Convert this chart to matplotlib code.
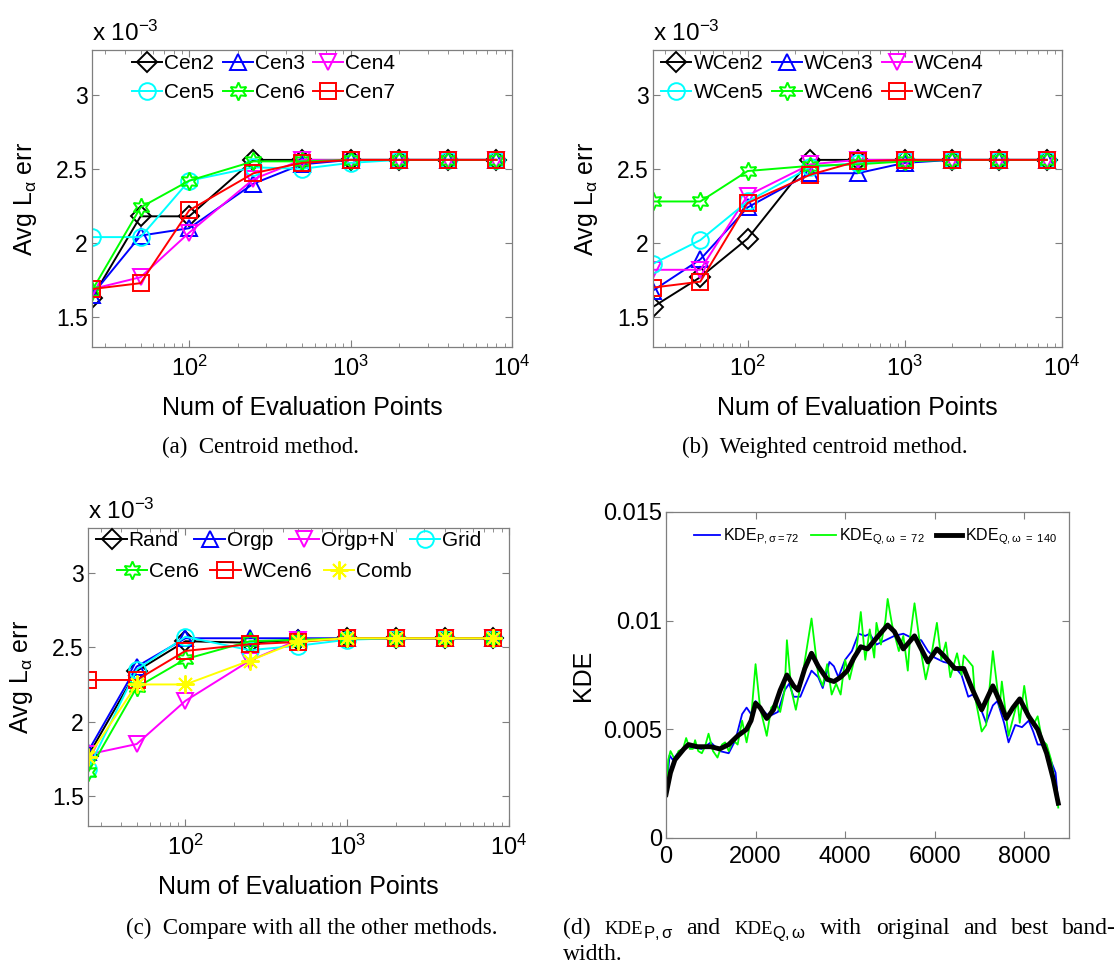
import numpy as np
import matplotlib
matplotlib.use("Agg")
import matplotlib.pyplot as plt
from matplotlib.ticker import FixedLocator, FixedFormatter, LogLocator, NullFormatter

plt.rcParams["font.family"] = ["Liberation Sans", "DejaVu Sans"]
plt.rcParams["mathtext.fontset"] = "custom"
plt.rcParams["mathtext.rm"] = "Liberation Sans"
plt.rcParams["mathtext.it"] = "Liberation Sans:italic"
plt.rcParams["mathtext.bf"] = "Liberation Sans:bold"
plt.rcParams["mathtext.default"] = "regular"

# ── Data ──────────────────────────────────────────────────────────────────────
# number of evaluation points (x axis of panels a-c)
N_POINTS = [25, 50, 100, 250, 500, 1000, 2000, 4000, 8000]

# average L_alpha error, in units of 1e-3
CEN2 = [1.63, 2.18, 2.18, 2.56, 2.56, 2.56, 2.56, 2.56, 2.56]
CEN3 = [1.65, 2.05, 2.10, 2.40, 2.53, 2.56, 2.56, 2.56, 2.56]
CEN4 = [1.69, 1.77, 2.07, 2.43, 2.56, 2.56, 2.56, 2.56, 2.56]
CEN5 = [2.04, 2.04, 2.42, 2.51, 2.50, 2.54, 2.56, 2.56, 2.56]
CEN6 = [1.68, 2.24, 2.42, 2.55, 2.55, 2.56, 2.56, 2.56, 2.56]
CEN7 = [1.69, 1.73, 2.22, 2.47, 2.54, 2.56, 2.56, 2.56, 2.56]

WCEN2 = [1.57, 1.77, 2.03, 2.56, 2.56, 2.56, 2.56, 2.56, 2.56]
WCEN3 = [1.68, 1.89, 2.24, 2.47, 2.47, 2.54, 2.56, 2.56, 2.56]
WCEN4 = [1.82, 1.82, 2.32, 2.53, 2.56, 2.56, 2.56, 2.56, 2.56]
WCEN5 = [1.86, 2.02, 2.28, 2.51, 2.54, 2.56, 2.56, 2.56, 2.56]
WCEN6 = [2.28, 2.28, 2.485, 2.52, 2.53, 2.55, 2.56, 2.56, 2.56]
WCEN7 = [1.70, 1.74, 2.27, 2.46, 2.55, 2.56, 2.56, 2.56, 2.56]

RAND = [1.77, 2.34, 2.54, 2.53, 2.55, 2.56, 2.56, 2.56, 2.56]
ORGP = [1.80, 2.37, 2.56, 2.56, 2.56, 2.56, 2.56, 2.56, 2.56]
ORGP_N = [1.78, 1.85, 2.14, 2.41, 2.55, 2.56, 2.56, 2.56, 2.56]
GRID = [1.68, 2.35, 2.57, 2.48, 2.51, 2.55, 2.56, 2.56, 2.56]
CMP_CEN6 = [1.66, 2.23, 2.42, 2.54, 2.55, 2.56, 2.56, 2.56, 2.56]
CMP_WCEN6 = [2.28, 2.28, 2.475, 2.52, 2.535, 2.56, 2.56, 2.56, 2.56]
COMB = [1.76, 2.25, 2.25, 2.41, 2.54, 2.56, 2.56, 2.56, 2.56]

# kernel density estimates over the hours of the year
KDE_P_X = [0, 80, 150, 300, 500, 800, 1000, 1200, 1400, 1550, 1700, 1800, 1900,
           2000, 2150, 2300, 2500, 2650, 2750, 2850, 3000, 3100, 3250, 3400,
           3500, 3650, 3750, 3850, 4000, 4150, 4300, 4450, 4550, 4700, 4900,
           5100, 5300, 5500, 5700, 5850, 6000, 6200, 6400, 6600, 6750, 6850,
           7000, 7150, 7300, 7400, 7550, 7650, 7800, 7950, 8100, 8200, 8300,
           8400, 8550, 8700, 8760]
KDE_P = [0.0020, 0.0038, 0.0036, 0.0040, 0.0042, 0.0041, 0.0044, 0.0040, 0.0039,
         0.0045, 0.0057, 0.0060, 0.0057, 0.0063, 0.0059, 0.0056, 0.0058, 0.0068,
         0.0071, 0.0065, 0.0065, 0.0070, 0.0077, 0.0074, 0.0069, 0.0081, 0.0079,
         0.0074, 0.0082, 0.0086, 0.0094, 0.0093, 0.0094, 0.0089, 0.0091, 0.0093,
         0.0094, 0.0092, 0.0091, 0.0086, 0.0083, 0.0081, 0.0080, 0.0075, 0.0065,
         0.0066, 0.0061, 0.0053, 0.0061, 0.0063, 0.0053, 0.0044, 0.0052, 0.0051,
         0.0054, 0.0049, 0.0043, 0.0043, 0.0038, 0.0030, 0.0016]

KDE_Q72_X = [0, 50, 100, 200, 280, 380, 450, 530, 600, 650, 720, 800, 870, 950,
             1050, 1150, 1250, 1320, 1400, 1500, 1600, 1700, 1800, 1900, 2000,
             2100, 2250, 2350, 2450, 2550, 2650, 2700, 2800, 2900, 3050, 3250,
             3400, 3500, 3600, 3700, 3800, 3900, 4000, 4100, 4250, 4350, 4450,
             4550, 4650, 4700, 4800, 4900, 4950, 5050, 5200, 5300, 5400, 5450,
             5550, 5700, 5800, 5950, 6050, 6150, 6250, 6350, 6500, 6600, 6650,
             6850, 6900, 7050, 7150, 7300, 7450, 7500, 7650, 7850, 7900, 8000,
             8100, 8200, 8300, 8400, 8500, 8600, 8700, 8760]
KDE_Q72 = [0.0018, 0.0036, 0.0040, 0.0036, 0.0040, 0.0041, 0.0046, 0.0041,
           0.0041, 0.0045, 0.0040, 0.0039, 0.0042, 0.0048, 0.0040, 0.0037,
           0.0043, 0.0044, 0.0040, 0.0045, 0.0043, 0.0054, 0.0044, 0.0055,
           0.0080, 0.0060, 0.0047, 0.0060, 0.0062, 0.0058, 0.0068, 0.0091,
           0.0068, 0.0059, 0.0075, 0.0101, 0.0075, 0.0070, 0.0080, 0.0066,
           0.0071, 0.0066, 0.0082, 0.0073, 0.0086, 0.0104, 0.0082, 0.0096,
           0.0083, 0.0099, 0.0089, 0.0100, 0.0110, 0.0098, 0.0086, 0.0093,
           0.0077, 0.0092, 0.0108, 0.0085, 0.0073, 0.0087, 0.0099, 0.0082,
           0.0090, 0.0074, 0.0085, 0.0075, 0.0084, 0.0079, 0.0065, 0.0049,
           0.0052, 0.0086, 0.0060, 0.0072, 0.0047, 0.0063, 0.0053, 0.0070,
           0.0056, 0.0052, 0.0056, 0.0045, 0.0043, 0.0036, 0.0024, 0.0014]

KDE_Q140_X = [0, 100, 200, 400, 500, 700, 1000, 1200, 1400, 1600, 1800, 1900,
              2000, 2100, 2250, 2400, 2550, 2700, 2850, 2950, 3100, 3250, 3400,
              3600, 3750, 3900, 4050, 4200, 4350, 4500, 4700, 4950, 5100, 5300,
              5550, 5700, 5850, 6050, 6200, 6450, 6650, 6850, 7050, 7300, 7450,
              7600, 7750, 7900, 8100, 8300, 8500, 8650, 8760]
KDE_Q140 = [0.0020, 0.0030, 0.0036, 0.0041, 0.0043, 0.0042, 0.0042, 0.0041,
            0.0043, 0.0047, 0.0050, 0.0054, 0.0062, 0.0060, 0.0055, 0.0059,
            0.0068, 0.0075, 0.0070, 0.0068, 0.0078, 0.0085, 0.0079, 0.0073,
            0.0072, 0.0074, 0.0077, 0.0083, 0.0088, 0.0087, 0.0092, 0.0098,
            0.0095, 0.0087, 0.0093, 0.0087, 0.0081, 0.0087, 0.0084, 0.0078,
            0.0078, 0.0068, 0.0059, 0.0070, 0.0063, 0.0055, 0.0060, 0.0064,
            0.0056, 0.0050, 0.0039, 0.0027, 0.0016]

# ── Styling ───────────────────────────────────────────────────────────────────
FW, FH = 1117, 967
GREY = "#7f7f7f"
HEX = (6, 1, 0)     # six-pointed star
AST = (8, 2, 0)     # eight-spoke asterisk
SERIF = ["Liberation Serif", "DejaVu Serif"]

STYLES = {
    "k":  dict(color="black", marker="D", ms=10),
    "b":  dict(color="#0000ff", marker="^", ms=12),
    "m":  dict(color="#ff00ff", marker="v", ms=12),
    "c":  dict(color="#00ffff", marker="o", ms=12),
    "g":  dict(color="#00ff00", marker=HEX, ms=13),
    "r":  dict(color="#ff0000", marker="s", ms=11),
    "y":  dict(color="#ffff00", marker=AST, ms=13),
}


def fig_axes(fig, left, top, right, bottom):
    """Axes placed by pixel edges of the figure."""
    return fig.add_axes([left / FW, 1 - bottom / FH, (right - left) / FW,
                         (bottom - top) / FH])


def frame(ax, size=16.5):
    for sp in ax.spines.values():
        sp.set_color(GREY)
        sp.set_linewidth(0.9)
    ax.tick_params(which="both", direction="in", top=True, right=True,
                   color=GREY, labelcolor="black", labelsize=size)
    ax.tick_params(axis="y", pad=3)
    ax.tick_params(axis="x", pad=6)
    ax.tick_params(which="major", length=5)
    ax.tick_params(which="minor", length=3)


def err_axes(ax):
    ax.set_xscale("log")
    ax.set_xlim(25, 1e4)
    ax.set_ylim(1.3, 3.3)
    ax.yaxis.set_major_locator(FixedLocator([1.5, 2, 2.5, 3]))
    ax.yaxis.set_major_formatter(FixedFormatter(["1.5", "2", "2.5", "3"]))
    ax.xaxis.set_major_locator(LogLocator(base=10, numticks=10))
    ax.xaxis.set_minor_locator(LogLocator(base=10, subs=np.arange(2, 10), numticks=10))
    ax.xaxis.set_minor_formatter(NullFormatter())
    frame(ax)
    ax.tick_params(axis="x", labelsize=17)
    ax.set_xlabel("Num of Evaluation Points", fontsize=18, labelpad=11)
    ax.set_ylabel(r"Avg L$_{\alpha}$ err", fontsize=18, labelpad=12)
    ax.text(0.0, 1.015, r"x 10$^{-3}$", transform=ax.transAxes,
            fontsize=17.5, ha="left", va="bottom")


def draw_series(ax, series):
    handles = []
    for label, values, key in series:
        st = STYLES[key]
        h, = ax.plot(N_POINTS, values, color=st["color"], lw=1.4,
                     marker=st["marker"], ms=st["ms"], mfc="none",
                     mec=st["color"], mew=1.4, label=label)
        handles.append(h)
    return handles


def rowwise(handles, ncol):
    """Reorder handles so a multi-column legend fills row by row."""
    nrow = int(np.ceil(len(handles) / ncol))
    out = []
    for c in range(ncol):
        for r in range(nrow):
            i = r * ncol + c
            if i < len(handles):
                out.append(handles[i])
    return out


def legend(ax, handles, ncol, anchor, colsp=0.4):
    return ax.legend(handles=rowwise(handles, ncol), ncol=ncol, loc="upper left",
                     bbox_to_anchor=anchor, frameon=False, fontsize=15,
                     handlelength=1.45, handletextpad=0.1, columnspacing=colsp,
                     borderaxespad=0, borderpad=0, labelspacing=0.45)


def justified(fig, tokens, x0, x1, y):
    """Lay out caption tokens on one line, stretched between x0 and x1 (pixels).

    tokens: (text, fontsize, glued, dy, kwargs); glued tokens get no gap before.
    """
    renderer = fig.canvas.get_renderer()
    texts, widths = [], []
    for text, size, glued, dy, kw in tokens:
        t = fig.text(0, 0, text, fontsize=size, va="baseline", ha="left", **kw)
        widths.append(t.get_window_extent(renderer).width)
        texts.append(t)
    gaps = sum(1 for tok in tokens[1:] if not tok[2])
    gap = (x1 - x0 - sum(widths)) / gaps
    x = x0
    for i, (t, w, tok) in enumerate(zip(texts, widths, tokens)):
        if i > 0 and not tok[2]:
            x += gap
        t.set_position((x / FW, 1 - (y + tok[3]) / FH))
        x += w


fig = plt.figure(figsize=(FW / 100, FH / 100), dpi=100)

# (a) centroid method
ax_a = fig_axes(fig, 92, 50, 512, 347)
h = draw_series(ax_a, [("Cen2", CEN2, "k"), ("Cen3", CEN3, "b"), ("Cen4", CEN4, "m"),
                       ("Cen5", CEN5, "c"), ("Cen6", CEN6, "g"), ("Cen7", CEN7, "r")])
err_axes(ax_a)
legend(ax_a, h, 3, (0.095, 0.985))

# (b) weighted centroid method
ax_b = fig_axes(fig, 653, 50, 1062, 347)
h = draw_series(ax_b, [("WCen2", WCEN2, "k"), ("WCen3", WCEN3, "b"),
                       ("WCen4", WCEN4, "m"), ("WCen5", WCEN5, "c"),
                       ("WCen6", WCEN6, "g"), ("WCen7", WCEN7, "r")])
err_axes(ax_b)
legend(ax_b, h, 3, (0.02, 0.985))

# (c) all methods
ax_c = fig_axes(fig, 88, 528, 509, 826)
h = draw_series(ax_c, [("Rand", RAND, "k"), ("Orgp", ORGP, "b"),
                       ("Orgp+N", ORGP_N, "m"), ("Grid", GRID, "c"),
                       ("Cen6", CMP_CEN6, "g"), ("WCen6", CMP_WCEN6, "r"),
                       ("Comb", COMB, "y")])
err_axes(ax_c)
top_row = legend(ax_c, h[:4], 4, (0.02, 0.99), colsp=0.75)
ax_c.add_artist(top_row)
legend(ax_c, h[4:], 3, (0.068, 0.885), colsp=0.55)

# (d) KDE curves
ax_d = fig_axes(fig, 666, 512, 1069, 838)
ax_d.plot(KDE_P_X, KDE_P, color="#0000ff", lw=1.3,
          label=r"KDE$_{\mathrm{P},\sigma\mathrm{=72}}$")
ax_d.plot(KDE_Q72_X, KDE_Q72, color="#00ff00", lw=1.3,
          label=r"KDE$_{\mathrm{Q},\omega\ \mathrm{=\ 72}}$")
ax_d.plot(KDE_Q140_X, KDE_Q140, color="black", lw=3.5,
          label=r"KDE$_{\mathrm{Q},\omega\ \mathrm{=\ 140}}$")
ax_d.set_xlim(0, 9000)
ax_d.set_ylim(0, 0.015)
ax_d.xaxis.set_major_locator(FixedLocator([0, 2000, 4000, 6000, 8000]))
ax_d.yaxis.set_major_locator(FixedLocator([0, 0.005, 0.01, 0.015]))
ax_d.yaxis.set_major_formatter(FixedFormatter(["0", "0.005", "0.01", "0.015"]))
frame(ax_d, size=17)
ax_d.set_ylabel("KDE", fontsize=18, labelpad=6)
ax_d.legend(ncol=3, loc="upper left", bbox_to_anchor=(0.07, 0.955), frameon=False,
            fontsize=11.5, handlelength=1.6, handletextpad=0.2, columnspacing=0.7,
            borderaxespad=0, borderpad=0)

# captions
cap = dict(family=SERIF, fontsize=16.5)
fig.text(260 / FW, 1 - 447 / FH, "(a)  Centroid method.", ha="center", va="center", **cap)
fig.text(825 / FW, 1 - 447 / FH, "(b)  Weighted centroid method.", ha="center",
         va="center", **cap)
fig.text(312 / FW, 1 - 928 / FH, "(c)  Compare with all the other methods.",
         ha="center", va="center", **cap)

serif = dict(family=SERIF)
sub = dict(math_fontfamily="stix")
justified(fig, [
    ("(d)", 17, False, 0, serif),
    ("KDE", 13.5, False, 0, serif),
    (r"$P,\sigma$", 12, True, 4, sub),
    ("and", 17, False, 0, serif),
    ("KDE", 13.5, False, 0, serif),
    (r"$Q,\omega$", 12, True, 4, sub),
    ("with", 17, False, 0, serif),
    ("original", 17, False, 0, serif),
    ("and", 17, False, 0, serif),
    ("best", 17, False, 0, serif),
    ("band-", 17, False, 0, serif),
], 563, 1116, 934)
fig.text(563 / FW, 1 - 960 / FH, "width.", ha="left", va="baseline", family=SERIF,
         fontsize=17)

fig.savefig("out.png", dpi=100)
